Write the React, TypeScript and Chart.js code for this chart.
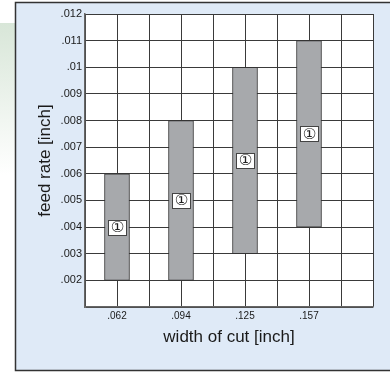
import React, { useEffect, useRef } from "react";
import { Chart, registerables } from "chart.js";

Chart.register(...registerables);

const categories = [".062", ".094", ".125", ".157"];
const categoryPositions = [1, 3, 5, 7];
const feedMin = [0.002, 0.002, 0.003, 0.004];
const feedMax = [0.006, 0.008, 0.01, 0.011];
const markerLabel = "①";
const yTickLabels: Record<string, string> = {
  "0.002": ".002",
  "0.003": ".003",
  "0.004": ".004",
  "0.005": ".005",
  "0.006": ".006",
  "0.007": ".007",
  "0.008": ".008",
  "0.009": ".009",
  "0.010": ".01",
  "0.011": ".011",
  "0.012": ".012",
};

const FONT = "'Liberation Sans', Arial, Helvetica, sans-serif";

const backgroundPlugin = {
  id: "panelBg",
  beforeDraw(chart: any) {
    const ctx = chart.ctx;
    ctx.save();
    ctx.fillStyle = "#ffffff";
    ctx.fillRect(0, 0, chart.width, chart.height);
    const g = ctx.createLinearGradient(0, 23, 0, 175);
    g.addColorStop(0, "#d8e6d8");
    g.addColorStop(1, "rgba(255,255,255,1)");
    ctx.fillStyle = g;
    ctx.fillRect(0, 23, 15, 152);
    ctx.fillStyle = "#dfeaf7";
    ctx.fillRect(15, 2, chart.width - 15, 369);
    ctx.strokeStyle = "#333333";
    ctx.lineWidth = 1.5;
    ctx.beginPath();
    ctx.moveTo(chart.width + 5, 2.5);
    ctx.lineTo(15.5, 2.5);
    ctx.lineTo(15.5, 370.5);
    ctx.lineTo(chart.width + 5, 370.5);
    ctx.stroke();
    const a = chart.chartArea;
    ctx.fillStyle = "#ffffff";
    ctx.fillRect(a.left, a.top, a.right - a.left, a.bottom - a.top);
    ctx.restore();
  },
};

const markerPlugin = {
  id: "markers",
  afterDatasetsDraw(chart: any) {
    const ctx = chart.ctx;
    const xs = chart.scales.x;
    const ys = chart.scales.y;
    ctx.save();
    categoryPositions.forEach((p, i) => {
      const cx = xs.getPixelForValue(p);
      const cy = ys.getPixelForValue((feedMin[i] + feedMax[i]) / 2);
      const w = 18;
      const h = 15;
      const x0 = Math.round(cx - w / 2) + 0.5;
      const y0 = Math.round(cy - h / 2) + 0.5;
      ctx.fillStyle = "#ffffff";
      ctx.fillRect(x0, y0, w, h);
      ctx.strokeStyle = "#444444";
      ctx.lineWidth = 1;
      ctx.strokeRect(x0, y0, w, h);
      ctx.fillStyle = "#222222";
      ctx.font = `15px 'DejaVu Sans', ${FONT}`;
      ctx.textAlign = "center";
      ctx.textBaseline = "middle";
      ctx.fillText(markerLabel, cx + 0.5, cy + 1);
    });
    ctx.restore();
  },
};

export default function App() {
  const ref = useRef<HTMLCanvasElement>(null);
  useEffect(() => {
    if (!ref.current) return;
    const chart = new Chart(ref.current, {
      type: "bar",
      data: {
        datasets: [
          {
            data: categoryPositions.map((p, i) => ({ x: p, y: [feedMin[i], feedMax[i]] })) as any,
            backgroundColor: "#a7a9ac",
            borderColor: "#333333",
            borderWidth: 1,
            borderSkipped: false,
            barThickness: 25,
          },
        ],
      },
      options: {
        animation: false,
        responsive: false,
        maintainAspectRatio: false,
        layout: { padding: { left: 0, top: 14, right: 17, bottom: 0 } },
        plugins: { legend: { display: false }, tooltip: { enabled: false } },
        scales: {
          x: {
            type: "linear",
            min: 0,
            max: 9,
            offset: false,
            grid: { color: "#3a3a3a", drawTicks: false, lineWidth: 1, offset: false },
            border: { color: "#666666", width: 1.5 },
            ticks: {
              stepSize: 1,
              autoSkip: false,
              maxRotation: 0,
              padding: 3,
              color: "#1a1a1a",
              font: { family: FONT, size: 10 },
              callback: (v: any) => {
                const i = categoryPositions.indexOf(Number(v));
                return i >= 0 ? categories[i] : "";
              },
            },
            title: {
              display: true,
              text: "width of cut [inch]",
              color: "#1a1a1a",
              font: { family: FONT, size: 17 },
              padding: { top: 0, bottom: 24 },
            },
            afterFit: (s: any) => {
              s.height = 65;
            },
          },
          y: {
            type: "linear",
            min: 0.001,
            max: 0.012,
            grid: { color: "#3a3a3a", drawTicks: false, lineWidth: 1 },
            border: { color: "#666666", width: 1.5 },
            ticks: {
              stepSize: 0.001,
              autoSkip: false,
              padding: 3,
              color: "#1a1a1a",
              font: { family: FONT, size: 11 },
              callback: (v: any) => yTickLabels[Number(v).toFixed(3)] ?? "",
            },
            title: {
              display: true,
              text: "feed rate [inch]",
              color: "#1a1a1a",
              font: { family: FONT, size: 17 },
              padding: { top: 35, bottom: 0 },
            },
            afterFit: (s: any) => {
              s.width = 85;
            },
          },
        },
      } as any,
      plugins: [backgroundPlugin, markerPlugin],
    });
    return () => chart.destroy();
  }, []);
  return (
    <div style={{ position: "fixed", left: 0, top: 0, width: 390, height: 372 }}>
      <canvas ref={ref} width={390} height={372} style={{ width: 390, height: 372 }} />
    </div>
  );
}
